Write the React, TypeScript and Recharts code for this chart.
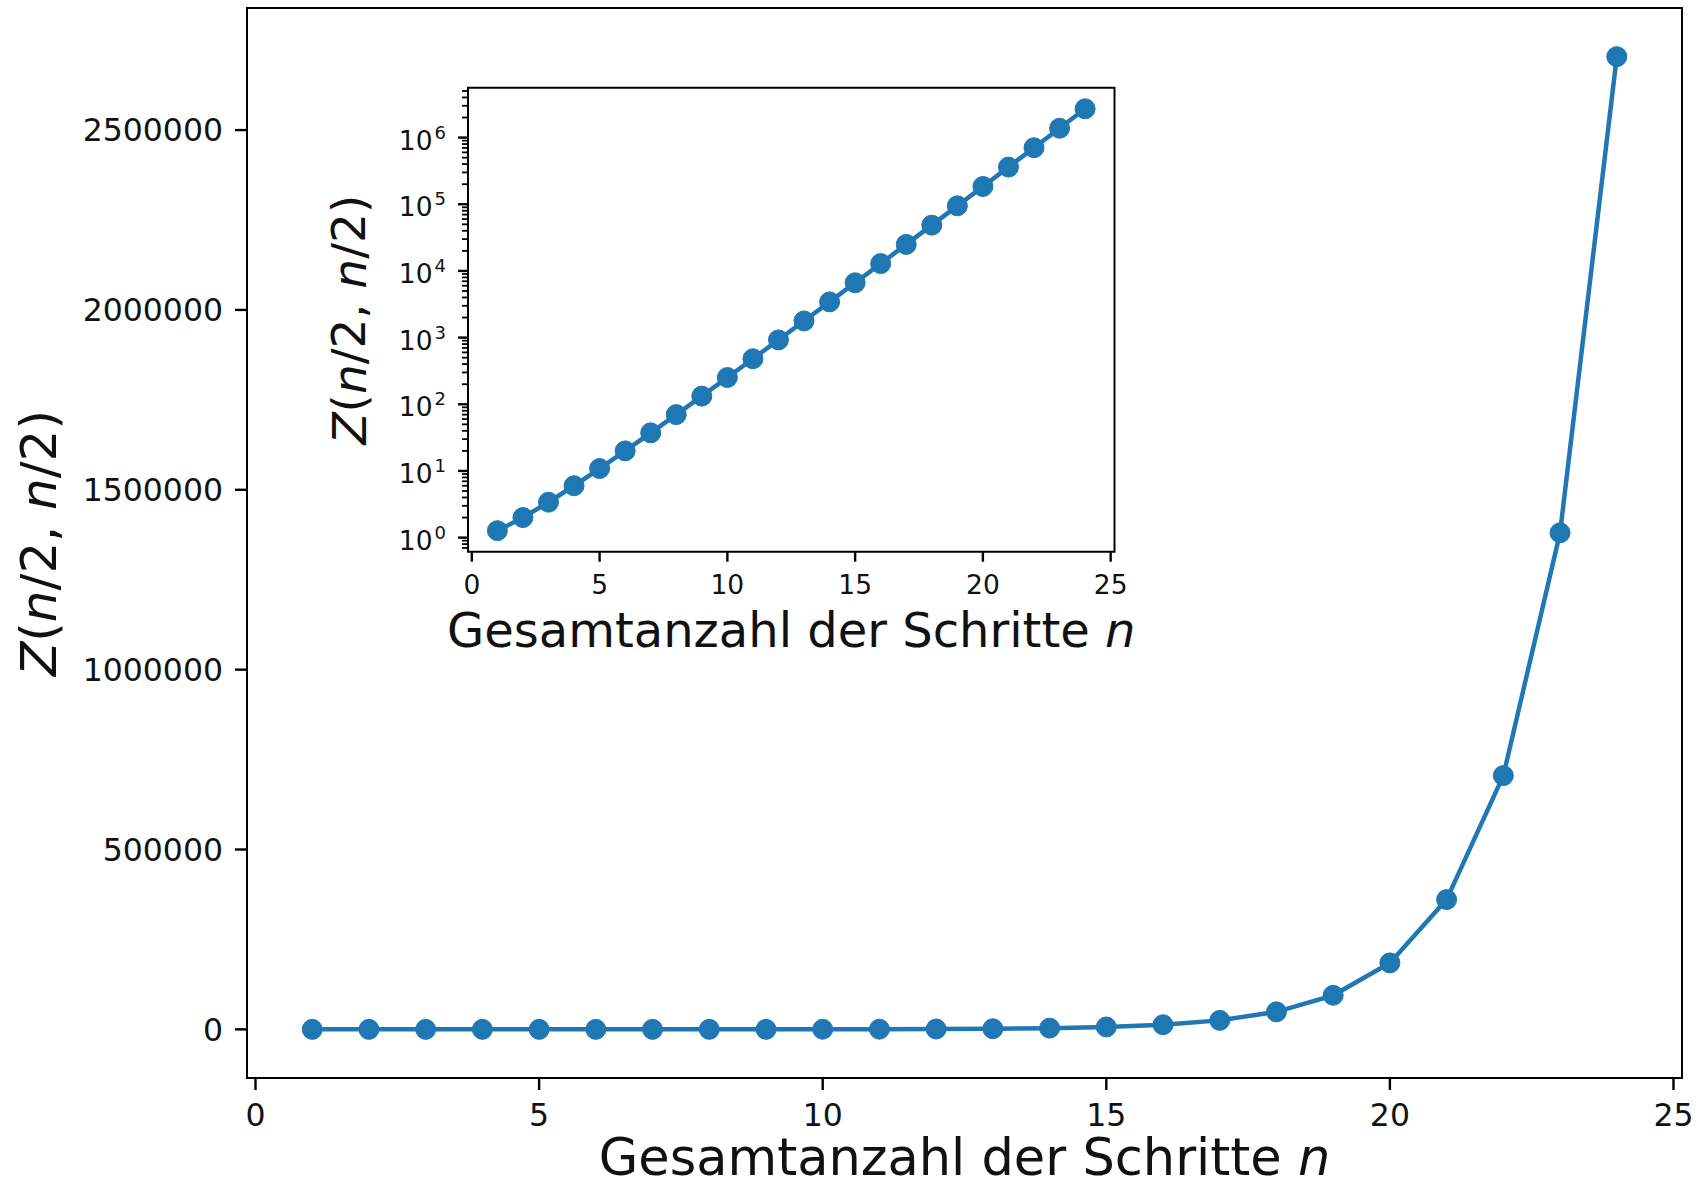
import { LineChart, Line, XAxis, YAxis, ReferenceArea, Label } from 'recharts'

// number of steps n and the path counts Z(n/2, n/2)
const steps = [1, 2, 3, 4, 5, 6, 7, 8, 9, 10, 11, 12, 13, 14, 15, 16, 17, 18, 19, 20, 21, 22, 23, 24]
const pathCounts = [
  1.273, 2, 3.395, 6, 10.87, 20, 37.25, 70, 132.5, 252, 481.6, 924, 1778, 3432, 6639, 12870,
  24994, 48620, 94714, 184756, 360815, 705432, 1380510, 2704156
]

const stepTicks = [0, 5, 10, 15, 20, 25]
const linearTicks = [0, 500000, 1000000, 1500000, 2000000, 2500000]
const logMajorTicks = [1, 10, 100, 1000, 10000, 100000, 1000000]
const logMinorFactors = [2, 3, 4, 5, 6, 7, 8, 9]

const stepDomain: [number, number] = [-0.15, 25.15]
const linearDomain: [number, number] = [-135207, 2839364]
const logDomain: [number, number] = [0.615, 5.6e6]

const logMinorTicks = [0.1, ...logMajorTicks]
  .flatMap((d) => logMinorFactors.map((m) => m * d))
  .filter((v) => v >= logDomain[0] && v <= logDomain[1])
const logTicks = [...logMajorTicks, ...logMinorTicks].sort((a, b) => a - b)

const chartData = steps.map((n, i) => ({ n, z: pathCounts[i] }))

const FONT = '"DejaVu Sans", sans-serif'
const BLUE = '#1f77b4'
const INK = '#111'

const LogTick = (props: any) => {
  const { x, y, payload } = props
  const v = payload.value
  const exp = Math.round(Math.log10(v))
  const isMajor = Math.abs(Math.log10(v) - exp) < 1e-6
  return (
    <g>
      <line
        x1={x - (isMajor ? 10 : 6)}
        x2={x}
        y1={y}
        y2={y}
        stroke="#000"
        strokeWidth={isMajor ? 2.4 : 1.8}
      />
      {isMajor && (
        <text x={x - 22} y={y} dy={12} textAnchor="end" fontSize={26.5} fill={INK} fontFamily={FONT}>
          10
          <tspan dy={-11} dx={2} fontSize={18}>
            {exp}
          </tspan>
        </text>
      )}
    </g>
  )
}

const xTitle = (fontSize: number, offset: number) => (props: any) => {
  const vb = props.viewBox
  return (
    <text
      x={vb.x + vb.width / 2}
      y={vb.y + offset}
      textAnchor="middle"
      fontSize={fontSize}
      fill={INK}
      fontFamily={FONT}
    >
      Gesamtanzahl der Schritte <tspan fontStyle="italic">n</tspan>
    </text>
  )
}

const yTitle = (fontSize: number, cx: number) => (props: any) => {
  const vb = props.viewBox
  const x = vb.x + cx
  const y = vb.y + vb.height / 2
  return (
    <text
      x={x}
      y={y}
      transform={`rotate(-90, ${x}, ${y})`}
      textAnchor="middle"
      dominantBaseline="central"
      fontSize={fontSize}
      fill={INK}
      fontFamily={FONT}
    >
      <tspan fontStyle="italic">Z</tspan>(<tspan fontStyle="italic">n</tspan>/2, <tspan fontStyle="italic">n</tspan>/2)
    </text>
  )
}

const App = () => {
  return (
    <div style={{ position: 'relative', width: 1698, height: 1184, background: 'white' }}>
      <style>{'body { margin: 0; }'}</style>

      {/* main chart, linear scale */}
      <LineChart width={1698} height={1184} data={chartData} margin={{ top: 8, right: 16, bottom: 0, left: 0 }}>
        <XAxis
          type="number"
          dataKey="n"
          domain={stepDomain}
          allowDataOverflow
          ticks={stepTicks}
          interval={0}
          height={106}
          axisLine={false}
          tickLine={{ stroke: '#000', strokeWidth: 2.4 }}
          tickSize={12}
          tickMargin={14}
          tick={{ fontSize: 31.5, fill: INK, fontFamily: FONT }}
        >
          <Label content={xTitle(51, 97)} />
        </XAxis>
        <YAxis
          type="number"
          domain={linearDomain}
          allowDataOverflow
          ticks={linearTicks}
          interval={0}
          width={247}
          axisLine={false}
          tickLine={{ stroke: '#000', strokeWidth: 2.4 }}
          tickSize={12}
          tickMargin={12}
          tick={{ fontSize: 31.5, fill: INK, fontFamily: FONT }}
        >
          <Label content={yTitle(50, 38.5)} />
        </YAxis>
        <Line
          type="linear"
          dataKey="z"
          stroke={BLUE}
          strokeWidth={4.5}
          dot={{ r: 10, fill: BLUE, stroke: BLUE, strokeWidth: 1 }}
          activeDot={false}
          isAnimationActive={false}
        />
        <ReferenceArea
          x1={stepDomain[0]}
          x2={stepDomain[1]}
          y1={linearDomain[0]}
          y2={linearDomain[1]}
          fill="none"
          stroke="#000"
          strokeWidth={2}
        />
      </LineChart>

      {/* inset, log scale */}
      <div style={{ position: 'absolute', left: 300, top: 60 }}>
        <LineChart width={870} height={600} data={chartData} margin={{ top: 27.7, right: 55.5, bottom: 0, left: 0 }}>
          <XAxis
            type="number"
            dataKey="n"
            domain={stepDomain}
            allowDataOverflow
            ticks={stepTicks}
            interval={0}
            height={108.3}
            axisLine={false}
            tickLine={{ stroke: '#000', strokeWidth: 2.4 }}
            tickSize={10}
            tickMargin={13}
            tick={{ fontSize: 26.5, fill: INK, fontFamily: FONT }}
          >
            <Label content={xTitle(48, 95.5)} />
          </XAxis>
          <YAxis
            type="number"
            scale="log"
            domain={logDomain}
            allowDataOverflow
            ticks={logTicks}
            interval={0}
            width={168}
            axisLine={false}
            tickLine={false}
            tickSize={0}
            tickMargin={0}
            tick={<LogTick />}
          >
            <Label content={yTitle(47, 49)} />
          </YAxis>
          <Line
            type="linear"
            dataKey="z"
            stroke={BLUE}
            strokeWidth={4.5}
            dot={{ r: 10, fill: BLUE, stroke: BLUE, strokeWidth: 1 }}
            activeDot={false}
            isAnimationActive={false}
          />
          <ReferenceArea
            x1={stepDomain[0]}
            x2={stepDomain[1]}
            y1={logDomain[0]}
            y2={logDomain[1]}
            fill="none"
            stroke="#000"
            strokeWidth={2}
          />
        </LineChart>
      </div>
    </div>
  )
}

export default App
